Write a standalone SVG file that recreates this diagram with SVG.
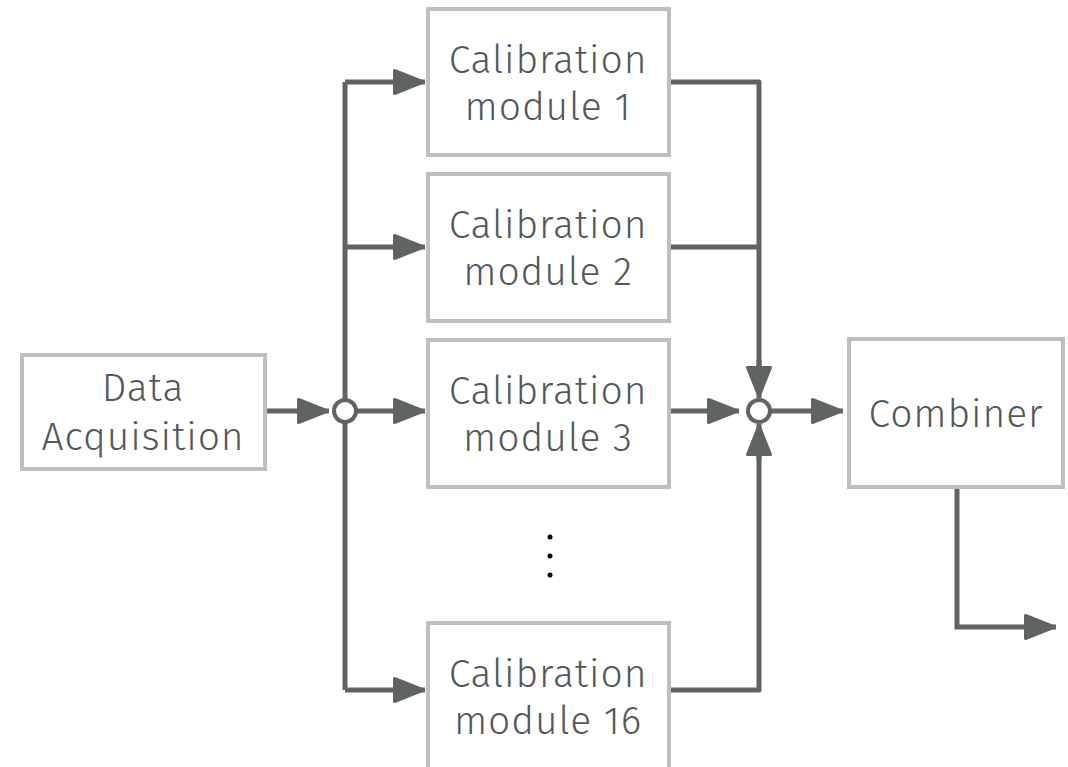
<svg xmlns="http://www.w3.org/2000/svg" width="1068" height="767" viewBox="0 0 1068 767">
<style>
.box{fill:#fff;stroke:#bcc0c1;stroke-width:4}
.t{font-family:"Fira Sans","Noto Sans","Open Sans",sans-serif;font-size:39px;font-weight:300;fill:#53585a;text-anchor:middle;letter-spacing:0.9px}
.ln{fill:none;stroke:#5f6364;stroke-width:5;stroke-linejoin:round}
.ar{fill:none;stroke:#5f6364;stroke-width:5;marker-end:url(#ah)}
.j{fill:#fff;stroke:#5f6364;stroke-width:4}
</style>
<defs>
<marker id="ah" viewBox="0 0 32 26" refX="32" refY="13" markerWidth="32" markerHeight="26" markerUnits="userSpaceOnUse" orient="auto">
<path d="M1.5,1.5 L30.5,13 L1.5,24.5 Z" fill="#5f6364" stroke="#5f6364" stroke-width="3" stroke-linejoin="round"/>
</marker>
</defs>
<rect width="1068" height="767" fill="#fff"/>
<g id="connectors">
<path class="ln" d="M345,82 L345,690"/>
<path class="ar" d="M345,82 L425,82"/>
<path class="ar" d="M345,247 L425,247"/>
<path class="ar" d="M356,411 L425,411"/>
<path class="ar" d="M345,690 L425,690"/>
<path class="ar" d="M265,411 L329,411"/>
<path class="ln" d="M669,82 L759,82 L759,370"/>
<path class="ln" d="M669,247 L759,247"/>
<path class="ar" d="M759,360 L759,398"/>
<path class="ln" d="M669,690 L759,690 L759,450"/>
<path class="ar" d="M759,460 L759,424"/>
<path class="ar" d="M669,411 L739,411"/>
<path class="ar" d="M770,411 L843,411"/>
<path class="ar" d="M957,487 L957,627 L1056,627"/>
</g>
<g id="junction-left"><circle class="j" cx="345" cy="411" r="11"/></g>
<g id="junction-right"><circle class="j" cx="759" cy="411" r="11"/></g>
<g id="data-acquisition">
<rect class="box" x="22" y="355" width="243" height="114"/>
<text class="t" x="143" y="401">Data</text>
<text class="t" x="143" y="450">Acquisition</text>
</g>
<g id="cal1">
<rect class="box" x="428" y="9" width="241" height="146"/>
<text class="t" x="548" y="73">Calibration</text>
<text class="t" x="548" y="120">module 1</text>
</g>
<g id="cal2">
<rect class="box" x="428" y="174" width="241" height="147"/>
<text class="t" x="548" y="238">Calibration</text>
<text class="t" x="548" y="285">module 2</text>
</g>
<g id="cal3">
<rect class="box" x="428" y="340" width="241" height="147"/>
<text class="t" x="548" y="404">Calibration</text>
<text class="t" x="548" y="451">module 3</text>
</g>
<g id="cal16">
<rect class="box" x="428" y="623" width="241" height="160"/>
<text class="t" x="548" y="687">Calibration</text>
<text class="t" x="548" y="734">module 16</text>
</g>
<g id="combiner">
<rect class="box" x="849" y="339" width="214" height="148"/>
<text class="t" x="956" y="427">Combiner</text>
</g>
<g id="dots" fill="#000">
<circle cx="550" cy="537" r="2.5"/>
<circle cx="550" cy="556" r="2.5"/>
<circle cx="550" cy="575" r="2.5"/>
</g>
</svg>
